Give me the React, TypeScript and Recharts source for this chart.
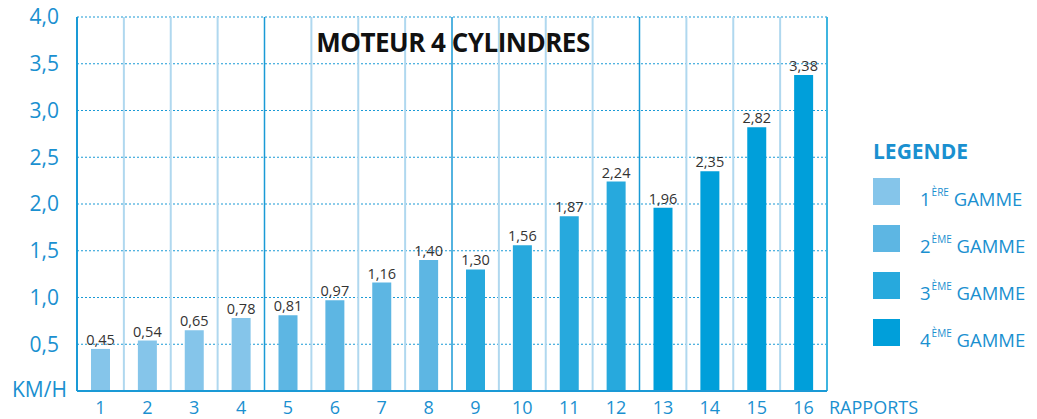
import { Bar, BarChart, CartesianGrid, Cell, LabelList, ReferenceLine, XAxis, YAxis } from 'recharts';

const rapports = [1, 2, 3, 4, 5, 6, 7, 8, 9, 10, 11, 12, 13, 14, 15, 16];
const vitesses = [0.45, 0.54, 0.65, 0.78, 0.81, 0.97, 1.16, 1.4, 1.3, 1.56, 1.87, 2.24, 1.96, 2.35, 2.82, 3.38];
const gammes = [1, 1, 1, 1, 2, 2, 2, 2, 3, 3, 3, 3, 4, 4, 4, 4];
const yTicks = [0.5, 1, 1.5, 2, 2.5, 3, 3.5, 4];
const legendItems = [
  { num: '1', sup: 'ÈRE' },
  { num: '2', sup: 'ÈME' },
  { num: '3', sup: 'ÈME' },
  { num: '4', sup: 'ÈME' },
];

const gammeColors = ['#85c5ea', '#5db6e3', '#27a9dd', '#009fda'];
const blue = '#1a90d0';
const font = '"Open Sans", "Noto Sans", sans-serif';

const data = rapports.map((r, i) => ({ rapport: r, vitesse: vitesses[i], gamme: gammes[i] }));

const fmt = (v: number) => v.toFixed(2).replace('.', ',');

export default function App() {
  return (
    <div style={{ position: 'relative', width: 1037, height: 419, background: '#fff', fontFamily: font }}>
      <style>{`body{margin:0}`}</style>
      <BarChart width={1037} height={419} data={data} margin={{ top: 17, right: 210, left: 0, bottom: 0 }}>
        <CartesianGrid vertical={false} stroke="#1a9ad6" strokeDasharray="2 2" strokeWidth={1.2} />
        {rapports.slice(0, 15).map((r) => (
          <ReferenceLine
            key={r}
            x={r + 0.5}
            stroke={r % 4 === 0 ? '#1a9ad6' : '#b0d8ef'}
            strokeWidth={r % 4 === 0 ? 1.5 : 2}
          />
        ))}
        <ReferenceLine x={16.5} stroke="#3fb5e0" strokeWidth={2} />
        <XAxis
          dataKey="rapport"
          type="number"
          domain={[0.5, 16.5]}
          ticks={rapports}
          height={28}
          axisLine={{ stroke: '#1a9ad6', strokeWidth: 2 }}
          tickLine={false}
          tick={{ fill: blue, fontSize: 18, fontFamily: font }}
          tickMargin={4}
        />
        <YAxis
          type="number"
          domain={[0, 4]}
          ticks={yTicks}
          width={77}
          axisLine={{ stroke: '#1a9ad6', strokeWidth: 2 }}
          tickLine={false}
          tick={{ fill: blue, fontSize: 21, fontFamily: font, fontWeight: 500 }}
          tickFormatter={(v: number) => v.toFixed(1).replace('.', ',')}
          tickMargin={12}
        />
        <Bar dataKey="vitesse" barSize={19} isAnimationActive={false}>
          {data.map((d) => (
            <Cell key={d.rapport} fill={gammeColors[d.gamme - 1]} />
          ))}
          <LabelList
            dataKey="vitesse"
            position="top"
            offset={4}
            formatter={(v: number) => fmt(v)}
            style={{ fill: '#333', fontSize: 14.5, fontFamily: font }}
          />
        </Bar>
      </BarChart>

      <div style={{ position: 'absolute', left: 0, width: 906, textAlign: 'center', top: 24, fontSize: 26, fontWeight: 700, color: '#111', letterSpacing: -0.5 }}>
        MOTEUR 4 CYLINDRES
      </div>
      <div style={{ position: 'absolute', left: 12, top: 375, fontSize: 21, color: blue }}>KM/H</div>
      <div style={{ position: 'absolute', left: 829, top: 395, fontSize: 18, color: blue }}>RAPPORTS</div>

      <div style={{ position: 'absolute', left: 873, top: 137, fontSize: 21, fontWeight: 700, color: blue }}>LEGENDE</div>
      {legendItems.map((it, i) => (
        <div key={it.num} style={{ position: 'absolute', left: 873, top: 178 + i * 47, height: 27, display: 'flex', alignItems: 'center' }}>
          <div style={{ width: 27, height: 27, background: gammeColors[i] }} />
          <div style={{ marginLeft: 20, fontSize: 18.5, color: blue, whiteSpace: 'nowrap', paddingTop: 14 }}>
            {it.num}
            <sup style={{ fontSize: 10, verticalAlign: 'top', position: 'relative', top: -1, marginLeft: 1 }}>{it.sup}</sup>
            {' GAMME'}
          </div>
        </div>
      ))}
    </div>
  );
}
